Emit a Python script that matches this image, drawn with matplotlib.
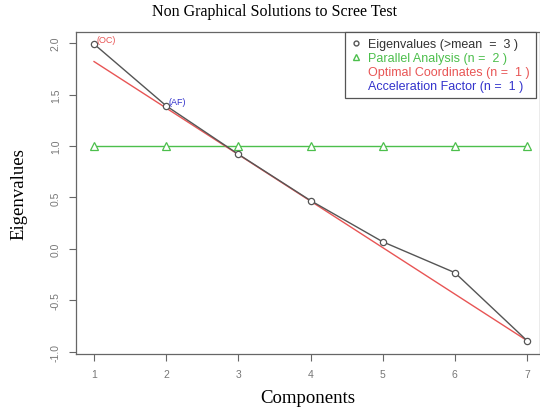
import matplotlib
matplotlib.use("Agg")
import matplotlib.pyplot as plt
from matplotlib.lines import Line2D

# data
components = [1, 2, 3, 4, 5, 6, 7]
eigenvalues = [1.99, 1.39, 0.92, 0.47, 0.07, -0.23, -0.89]
parallel = [1.0, 1.0, 1.0, 1.0, 1.0, 1.0, 1.0]
oc_x = [1, 7]
oc_y = [1.82, -0.89]

legend_labels = ['Eigenvalues (>mean  =  3 )',
                 'Parallel Analysis (n =  2 )',
                 'Optimal Coordinates (n =  1 )',
                 'Acceleration Factor (n =  1 )']

gray = '#555555'
green = '#4cbf4c'
red = '#e85555'
blue = '#3333cc'

fig = plt.figure(figsize=(5.4, 4.1), dpi=100)
ax = fig.add_axes([76 / 540, 55 / 410, 464 / 540, 322 / 410])

ax.plot(components, parallel, color=green, lw=1, marker='^', ms=6,
        mfc='white', mec=green, mew=0.9)
ax.plot(oc_x, oc_y, color=red, lw=1)
ax.plot(components, eigenvalues, color=gray, lw=1, marker='o', ms=4.5,
        mfc='white', mec=gray, mew=0.9)

ax.text(components[0] + 0.03, eigenvalues[0] + 0.0, '(OC)', color=red,
        fontsize=6.5, family='Liberation Sans', va='bottom')
ax.text(components[1] + 0.03, eigenvalues[1] + 0.0, '(AF)', color=blue,
        fontsize=6.5, family='Liberation Sans', va='bottom')

ax.set_xlim(0.75, 7.18)
ax.set_ylim(-1.02, 2.107)
ax.set_xticks(components)
ax.set_yticks([-1.0, -0.5, 0.0, 0.5, 1.0, 1.5, 2.0])
ax.set_yticklabels(['-1.0', '-0.5', '0.0', '0.5', '1.0', '1.5', '2.0'],
                   rotation=90, va='center')
ax.tick_params(colors='#666666', labelsize=7.5, length=5, width=0.8, pad=6)
for lab in ax.get_xticklabels() + ax.get_yticklabels():
    lab.set_family('Liberation Sans')
    lab.set_color('#777777')
for sp in ax.spines.values():
    sp.set_color('#666666')
    sp.set_linewidth(0.9)

fig.text(275 / 540, 1 - 12 / 410, 'Non Graphical Solutions to Scree Test',
         family='Liberation Serif', fontsize=11.5, ha='center', va='center')
ax.set_xlabel('Components', family='Liberation Serif', fontsize=13.5, labelpad=7)
ax.set_ylabel('Eigenvalues', family='Liberation Serif', fontsize=13.5, labelpad=17)

handles = [Line2D([0], [0], ls='none', marker='o', ms=3.5, mfc='white', mec=gray),
           Line2D([0], [0], ls='none', marker='^', ms=4.5, mfc='white', mec=green),
           Line2D([0], [0], ls='none'),
           Line2D([0], [0], ls='none')]
leg = ax.legend(handles, legend_labels, loc='upper right', bbox_to_anchor=(0.992, 1.0),
                prop={'family': 'Liberation Sans', 'size': 9},
                labelcolor=['#333333', green, red, blue],
                fancybox=False, edgecolor='#555555', framealpha=1,
                handlelength=0.8, handletextpad=0.6, labelspacing=0.15,
                borderpad=0.5, borderaxespad=0)
leg.get_frame().set_linewidth(0.9)

fig.savefig('out.png', dpi=100)
